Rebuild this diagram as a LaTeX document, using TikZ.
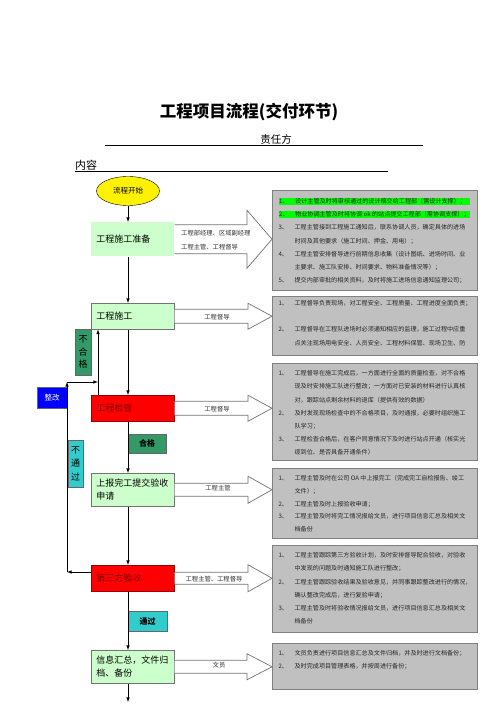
\documentclass[tikz,border=0pt]{standalone}
\usepackage{fontspec}
\setmainfont{Noto Sans CJK SC}
\usepackage{xcolor}
\usetikzlibrary{arrows,shapes,calc}

\definecolor{lightgrn}{HTML}{CCFFCC}
\definecolor{infogray}{HTML}{C0C0C0}
\definecolor{infoedge}{HTML}{808080}
\definecolor{hlgreen}{HTML}{00FF00}
\definecolor{passgrn}{HTML}{339966}
\definecolor{failcyan}{HTML}{33CCCC}

\setlength{\fboxsep}{0.6pt}
\newcommand{\itm}[2]{\par\hangindent=16pt\hangafter=1\noindent\makebox[16pt][l]{#1、}#2}
\newcommand{\hlitm}[2]{\par\noindent\colorbox{hlgreen}{\makebox[190pt][l]{\makebox[16pt][l]{#1、}#2}}}
\newcommand{\infotext}[2]{\parbox[c][#1][t]{193pt}{\fontsize{6.1}{13.2}\selectfont #2}}
% wide hollow arrow from a flow box to its info box
\newcommand{\bigarrow}[5]{%
  \draw[bigarr] ($(#1)+(0,-#3)$) -- ($(#1 -| #2.west)+(-#5,-#3)$) -- ($(#1 -| #2.west)+(-#5,-#4)$)
    -- (#1 -| #2.west) -- ($(#1 -| #2.west)+(-#5,#4)$) -- ($(#1 -| #2.west)+(-#5,#3)$) -- ($(#1)+(0,#3)$);}

\begin{document}
\begin{tikzpicture}[x=1pt,y=-1pt,>=latex,
	flowbox/.style={rectangle,anchor=north west,fill=lightgrn,draw=black!55,line width=0.5pt,
		inner xsep=5pt,inner ysep=0pt,text width=73pt,align=left,font=\fontsize{9}{13}\selectfont},
	redbox/.style={flowbox,fill=red,draw=red!60!black,text=red!45!black},
	infobox/.style={rectangle,anchor=north west,fill=infogray,draw=infoedge,line width=1.2pt,
		inner sep=0pt,minimum width=205pt,text=black!85},
	tagbox/.style={rectangle,draw=black!60,line width=0.4pt,inner sep=0pt,align=center},
	bigarr/.style={draw=black!55,fill=white,line width=0.7pt},
	lbl/.style={font=\fontsize{6.3}{14}\selectfont,text=black!80,inner sep=0pt},
	flow/.style={->,line width=0.6pt}]
		\useasboundingbox (0,0) rectangle (500,708);
		%
		\node[font=\bfseries\fontsize{16.5}{18}\selectfont] (title) at (249,112) {工程项目流程(交付环节)};
		\node[font=\fontsize{10.5}{12}\selectfont] (resp) at (276,139) {责任方};
		\node[font=\fontsize{11}{12}\selectfont,anchor=west,inner sep=0pt] (cont) at (75,165) {内容};
		\draw[line width=0.6pt] (105,145) -- (423,145);
		\draw[line width=0.6pt] (75,171) -- (388,171);
		%
		\node[ellipse,draw,fill=yellow,minimum width=63pt,minimum height=29pt,inner sep=0pt,
			font=\fontsize{7.5}{9}\selectfont] (e) at (128,191) {流程开始};
		\node[flowbox,draw=none,minimum height=34pt] (b1) at (91,222) {工程施工准备};
		\node[flowbox,minimum height=26pt] (b2) at (91,303) {工程施工};
		\node[redbox,minimum height=26pt] (b3) at (91,395) {工程检查};
		\node[flowbox,minimum height=33pt] (b4) at (91,473) {上报完工提交验收\\申请};
		\node[redbox,minimum height=26pt] (b5) at (91,565) {第三方验收};
		\node[flowbox,minimum height=33pt] (b6) at (91,650) {信息汇总，文件归\\档、备份};
		%
		\node[tagbox,fill=passgrn,minimum width=16pt,minimum height=46pt,
			font=\fontsize{9}{12.5}\selectfont] (ng) at (83,352) {不\\合\\格};
		\node[tagbox,fill=failcyan,minimum width=15pt,minimum height=47pt,
			font=\fontsize{9}{13.5}\selectfont] (np) at (75.5,463.5) {不\\通\\过};
		\node[tagbox,fill=blue,text=white,minimum width=30pt,minimum height=21pt,
			font=\fontsize{7.5}{9}\selectfont] (fix) at (52,397.5) {整改};
		\node[tagbox,fill=passgrn,minimum width=38pt,minimum height=19pt,
			font=\bfseries\fontsize{8}{9}\selectfont] (ok) at (147,443.5) {合格};
		\node[tagbox,fill=failcyan,minimum width=39pt,minimum height=20pt,
			font=\bfseries\fontsize{8}{9}\selectfont] (pass) at (147.5,621) {通过};
		%
		\node[infobox,minimum height=100pt] (g1) at (272,190) {\infotext{86pt}{%
			\hlitm{1}{设计主管及时将审核通过的设计稿交给工程部（需设计支撑）；}
			\hlitm{2}{物业协调主管及时将协调 ok 的站点提交工程部（需协调支撑）；}
			\itm{3}{工程主管接到工程施工通知后，联系协调人员，确定具体的进场\\时间及其他要求（施工时间、押金、用电）；}
			\itm{4}{工程主管安排督导进行前期信息收集（设计图纸、进场时间、业\\主要求、施工队安排、时间要求、物料准备情况等）；}
			\itm{5}{提交内部审批的相关资料，及时将施工进场信息通知监理公司；}}};
		\node[infobox,minimum height=59pt] (g2) at (272,296) {\infotext{47pt}{%
			\vspace*{-2pt}\itm{1}{工程督导负责现场，对工程安全、工程质量、工程进度全面负责；}\par\vspace{13pt}
			\itm{2}{工程督导在工程队进场时必须通知相应的监理，施工过程中应重\\点关注现场用电安全、人员安全、工程材料保管、现场卫生、防}}};
		\node[infobox,minimum height=97pt] (g3) at (272,363) {\infotext{83pt}{%
			\itm{1}{工程督导在施工完成后，一方面进行全面的质量检查，对不合格\\现及时安排施工队进行整改；一方面对已安装的材料进行认真核\\对，跟踪站点剩余材料的退库（提供有效的数据）}
			\itm{2}{及时发现现场检查中的不合格项目，及时通报，必要时组织施工\\队学习；}
			\itm{3}{工程检查合格后，在客户同意情况下及时进行站点开通（核实光\\缆到位、是否具备开通条件）}}};
		\node[infobox,minimum height=70pt] (g4) at (272,468) {\infotext{56pt}{\fontsize{6.1}{12.6}\selectfont
			\itm{1}{工程主管及时在公司 OA 中上报完工（完成完工自检报告、竣工\\文件）；}
			\itm{2}{工程主管及时上报验收申请；}
			\itm{3}{工程主管及时将完工情况报给文员，进行项目信息汇总及相关文\\档备份}}};
		\node[infobox,minimum height=87pt] (g5) at (272,545) {\infotext{73pt}{%
			\itm{1}{工程主管跟踪第三方验收计划，及时安排督导配合验收，对验收\\中发现的问题及时通知施工队进行整改；}
			\itm{2}{工程主管跟踪验收结果及验收意见，并同事跟踪整改进行的情况，\\确认整改完成后，进行复验申请；}
			\itm{3}{工程主管及时将验收情况报给文员，进行项目信息汇总及相关文\\档备份}}};
		\node[infobox,minimum height=46pt] (g6) at (272,643) {\infotext{32pt}{%
			\itm{1}{文员负责进行项目信息汇总及文件归档，并及时进行文档备份；}
			\itm{2}{及时完成项目管理表格，并按周进行备份；}}};
		%
		\bigarrow{b1.east}{g1}{14.5}{29}{25}
		\bigarrow{b2.east}{g2}{7}{13}{24}
		\bigarrow{b3.east}{g3}{7}{13}{24}
		\bigarrow{b4.east}{g4}{6.5}{13.5}{24}
		\bigarrow{b5.east}{g5}{6}{13.5}{24}
		\bigarrow{b6.east}{g6}{6.5}{13}{25}
		%
		\node[lbl,anchor=west,align=left] (l1) at (181,240) {工程部经理、区域副经理\\工程主管、工程督导};
		\node[lbl] (l2) at (217,317) {工程督导};
		\node[lbl] (l3) at (217,409) {工程督导};
		\node[lbl] (l4) at (218,488) {工程主管};
		\node[lbl] (l5) at (214,579) {工程主管、工程督导};
		\node[lbl] (l6) at (219,665) {文员};
		%
		\coordinate (c1) at (67,572);
		\coordinate (c2) at (67,382);
		\coordinate (c3) at (98,382);
		\coordinate (end) at (128,702);
		%
		\path[flow]
		(e.south) edge (e.south |- b1.north)
		(e.south |- b1.south) edge (e.south |- b2.north)
		(e.south |- b2.south) edge (e.south |- b3.north)
		(e.south |- b3.south) edge (e.south |- b4.north)
		(e.south |- b4.south) edge (e.south |- b5.north)
		(e.south |- b5.south) edge (e.south |- b6.north)
		(e.south |- b6.south) edge (end)
		(c3 |- b3.north) edge (c3 |- b2.south)
		(b5.west |- c1) edge (c1)
		(c1) edge (c2)
		(c2) edge (c3);
		\end{tikzpicture}
\end{document}
